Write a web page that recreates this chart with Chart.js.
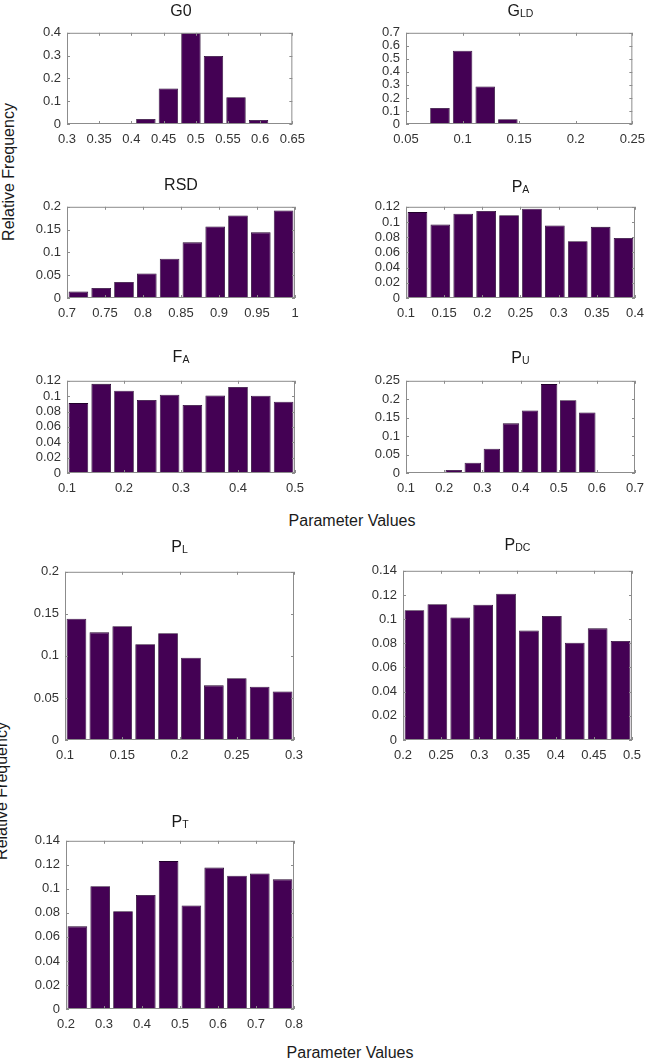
<!DOCTYPE html>
<html>
<head>
<meta charset="utf-8">
<script src="https://cdn.jsdelivr.net/npm/chart.js@4.4.1/dist/chart.umd.min.js"></script>
<style>
  html, body { margin: 0; padding: 0; background: #fff; overflow: hidden; }
  #page { position: relative; width: 649px; height: 1062px; overflow: hidden;
          font-family: "Liberation Sans", Arial, sans-serif; color: #262626; }
  canvas { position: absolute; }
  .title { position: absolute; font-size: 16px; line-height: 18px; white-space: nowrap;
           transform: translateX(-50%); color: #1a1a1a; }
  .title sub { font-size: 10.5px; vertical-align: -1px; }
  .xlabel { position: absolute; font-size: 16px; line-height: 18px; white-space: nowrap;
            transform: translateX(-50%); color: #1a1a1a; }
  .ylabel { position: absolute; font-size: 16px; line-height: 18px; white-space: nowrap;
            transform: translate(-50%, -50%) rotate(-90deg); color: #1a1a1a; }
</style>
</head>
<body>
<div id="page">
  <div class="xlabel" style="left:352px; top:512px;">Parameter Values</div>
  <div class="xlabel" style="left:350px; top:1044px;">Parameter Values</div>
  <div class="ylabel" style="left:9px; top:172px;">Relative Frequency</div>
  <div class="ylabel" style="left:2px; top:791px;">Relative Frequency</div>
</div>
<script>
// ===================================
// Histogramas de parámetros (frecuencia relativa)
// ===================================

// --- G0 ---
const g0Bins   = [0.3175, 0.3525, 0.3875, 0.4225, 0.4575, 0.4925, 0.5275, 0.5625, 0.5975, 0.6325];
const g0Values = [0, 0.001, 0.001, 0.022, 0.156, 0.4, 0.298, 0.117, 0.018, 0.002];
const g0XTicks = [0.3, 0.35, 0.4, 0.45, 0.5, 0.55, 0.6, 0.65];
const g0YTicks = [0, 0.1, 0.2, 0.3, 0.4];

// --- GLD ---
const gldBins   = [0.06, 0.08, 0.10, 0.12, 0.14, 0.16, 0.18, 0.20, 0.22, 0.24];
const gldValues = [0, 0.123, 0.563, 0.288, 0.037, 0.005, 0.001, 0.0005, 0.0005, 0];
const gldXTicks = [0.05, 0.1, 0.15, 0.2, 0.25];
const gldYTicks = [0, 0.1, 0.2, 0.3, 0.4, 0.5, 0.6, 0.7];

// --- RSD ---
const rsdBins   = [0.715, 0.745, 0.775, 0.805, 0.835, 0.865, 0.895, 0.925, 0.955, 0.985];
const rsdValues = [0.014, 0.022, 0.035, 0.054, 0.086, 0.122, 0.157, 0.181, 0.144, 0.192];
const rsdXTicks = [0.7, 0.75, 0.8, 0.85, 0.9, 0.95, 1];
const rsdYTicks = [0, 0.05, 0.1, 0.15, 0.2];

// --- PA ---
const paBins   = [0.115, 0.145, 0.175, 0.205, 0.235, 0.265, 0.295, 0.325, 0.355, 0.385];
const paValues = [0.113, 0.0966, 0.111, 0.1145, 0.109, 0.1175, 0.0953, 0.0748, 0.0936, 0.079];
const paXTicks = [0.1, 0.15, 0.2, 0.25, 0.3, 0.35, 0.4];
const paYTicks = [0, 0.02, 0.04, 0.06, 0.08, 0.1, 0.12];

// --- FA ---
const faBins   = [0.12, 0.16, 0.20, 0.24, 0.28, 0.32, 0.36, 0.40, 0.44, 0.48];
const faValues = [0.091, 0.116, 0.107, 0.095, 0.102, 0.0885, 0.101, 0.112, 0.1007, 0.0927];
const faXTicks = [0.1, 0.2, 0.3, 0.4, 0.5];
const faYTicks = [0, 0.02, 0.04, 0.06, 0.08, 0.1, 0.12];

// --- PU ---
const puBins   = [0.125, 0.175, 0.225, 0.275, 0.325, 0.375, 0.425, 0.475, 0.525, 0.575];
const puValues = [0.001, 0.002, 0.008, 0.028, 0.0656, 0.1346, 0.1696, 0.241, 0.1976, 0.164];
const puXTicks = [0.1, 0.2, 0.3, 0.4, 0.5, 0.6, 0.7];
const puYTicks = [0, 0.05, 0.1, 0.15, 0.2, 0.25];

// --- PL ---
const plBins   = [0.11, 0.13, 0.15, 0.17, 0.19, 0.21, 0.23, 0.25, 0.27, 0.29];
const plValues = [0.1443, 0.128, 0.1354, 0.114, 0.1269, 0.0979, 0.065, 0.0735, 0.0634, 0.0576];
const plXTicks = [0.1, 0.15, 0.2, 0.25, 0.3];
const plYTicks = [0, 0.05, 0.1, 0.15, 0.2];

// --- PDC ---
const pdcBins   = [0.215, 0.245, 0.275, 0.305, 0.335, 0.365, 0.395, 0.425, 0.455, 0.485];
const pdcValues = [0.1073, 0.1124, 0.1014, 0.1119, 0.1211, 0.0905, 0.1027, 0.0805, 0.0924, 0.0819];
const pdcXTicks = [0.2, 0.25, 0.3, 0.35, 0.4, 0.45, 0.5];
const pdcYTicks = [0, 0.02, 0.04, 0.06, 0.08, 0.1, 0.12, 0.14];

// --- PT ---
const ptBins   = [0.23, 0.29, 0.35, 0.41, 0.47, 0.53, 0.59, 0.65, 0.71, 0.77];
const ptValues = [0.0688, 0.1022, 0.0813, 0.0949, 0.1231, 0.0862, 0.1177, 0.1109, 0.1128, 0.1079];
const ptXTicks = [0.2, 0.3, 0.4, 0.5, 0.6, 0.7, 0.8];
const ptYTicks = [0, 0.02, 0.04, 0.06, 0.08, 0.1, 0.12, 0.14];

// Paneles: datos + posición del área del gráfico (left, top, width, height) y del título
const panels = [
    { title: 'G0',             bins: g0Bins,  values: g0Values,  xTicks: g0XTicks,  yTicks: g0YTicks,  area: [67, 29, 228, 95],   titleY: 2 },
    { title: 'G<sub>LD</sub>', bins: gldBins, values: gldValues, xTicks: gldXTicks, yTicks: gldYTicks, area: [406, 29, 229, 95],  titleY: 2 },
    { title: 'RSD',            bins: rsdBins, values: rsdValues, xTicks: rsdXTicks, yTicks: rsdYTicks, area: [67, 203, 228, 95],  titleY: 176 },
    { title: 'P<sub>A</sub>',  bins: paBins,  values: paValues,  xTicks: paXTicks,  yTicks: paYTicks,  area: [406, 203, 229, 95], titleY: 178 },
    { title: 'F<sub>A</sub>',  bins: faBins,  values: faValues,  xTicks: faXTicks,  yTicks: faYTicks,  area: [67, 377, 228, 96],  titleY: 348 },
    { title: 'P<sub>U</sub>',  bins: puBins,  values: puValues,  xTicks: puXTicks,  yTicks: puYTicks,  area: [406, 377, 229, 96], titleY: 349 },
    { title: 'P<sub>L</sub>',  bins: plBins,  values: plValues,  xTicks: plXTicks,  yTicks: plYTicks,  area: [65, 568, 229, 172], titleY: 538 },
    { title: 'P<sub>DC</sub>', bins: pdcBins, values: pdcValues, xTicks: pdcXTicks, yTicks: pdcYTicks, area: [403, 567, 229, 173], titleY: 536 },
    { title: 'P<sub>T</sub>',  bins: ptBins,  values: ptValues,  xTicks: ptXTicks,  yTicks: ptYTicks,  area: [66, 837, 228, 172], titleY: 813 }
];

// Espacio reservado alrededor del área del gráfico
const AXIS_W = 60, AXIS_H = 30, PAD_TOP = 10, PAD_RIGHT = 18;

// Caja estilo MATLAB con marcas hacia dentro
const boxPlugin = {
    id: 'matlabBox',
    afterDatasetsDraw(chart) {
        const { ctx, chartArea: a, scales } = chart;
        const tick = 3;
        ctx.save();
        ctx.strokeStyle = '#8c8c8c';
        ctx.lineWidth = 1;
        ctx.beginPath();
        scales.x.ticks.forEach(t => {
            const px = Math.round(scales.x.getPixelForValue(t.value)) + 0.5;
            ctx.moveTo(px, a.bottom); ctx.lineTo(px, a.bottom - tick);
            ctx.moveTo(px, a.top);    ctx.lineTo(px, a.top + tick);
        });
        scales.y.ticks.forEach(t => {
            const py = Math.round(scales.y.getPixelForValue(t.value)) + 0.5;
            ctx.moveTo(a.left, py);  ctx.lineTo(a.left + tick, py);
            ctx.moveTo(a.right, py); ctx.lineTo(a.right - tick, py);
        });
        ctx.stroke();
        ctx.strokeRect(a.left + 0.5, a.top + 0.5, a.right - a.left - 1, a.bottom - a.top - 1);
        ctx.restore();
    }
};

function drawHistogram(p) {
    const [left, top, w, h] = p.area;
    const page = document.getElementById('page');

    const canvas = document.createElement('canvas');
    canvas.width = w + AXIS_W + PAD_RIGHT;
    canvas.height = h + PAD_TOP + AXIS_H;
    canvas.style.left = (left - AXIS_W) + 'px';
    canvas.style.top = (top - PAD_TOP) + 'px';
    page.appendChild(canvas);

    const title = document.createElement('div');
    title.className = 'title';
    title.innerHTML = p.title;
    title.style.left = (left + w / 2) + 'px';
    title.style.top = p.titleY + 'px';
    page.appendChild(title);

    const tickFont = { family: '"Liberation Sans", Arial, sans-serif', size: 13 };

    new Chart(canvas, {
        type: 'bar',
        data: {
            datasets: [{
                data: p.bins.map((b, i) => ({ x: b, y: p.values[i] })),
                backgroundColor: '#440154',
                borderColor: '#22002c',
                borderWidth: 0.8,
                barPercentage: 0.86,
                categoryPercentage: 1
            }]
        },
        options: {
            responsive: false,
            animation: false,
            devicePixelRatio: 1,
            layout: { padding: { left: 0, top: PAD_TOP, right: PAD_RIGHT, bottom: 0 } },
            plugins: { legend: { display: false }, tooltip: { enabled: false } },
            scales: {
                x: {
                    type: 'linear',
                    offset: false,
                    min: p.xTicks[0],
                    max: p.xTicks[p.xTicks.length - 1],
                    grid: { display: false, drawTicks: false },
                    border: { display: false },
                    ticks: {
                        padding: 8,
                        color: '#333',
                        font: tickFont,
                        maxRotation: 0,
                        autoSkip: false,
                        callback: v => String(v)
                    },
                    afterBuildTicks: s => { s.ticks = p.xTicks.map(v => ({ value: v })); },
                    afterFit: s => { s.height = AXIS_H; }
                },
                y: {
                    min: 0,
                    max: p.yTicks[p.yTicks.length - 1],
                    grid: { display: false, drawTicks: false },
                    border: { display: false },
                    ticks: {
                        padding: 6,
                        color: '#333',
                        font: tickFont,
                        autoSkip: false,
                        callback: v => String(v)
                    },
                    afterBuildTicks: s => { s.ticks = p.yTicks.map(v => ({ value: v })); },
                    afterFit: s => { s.width = AXIS_W; }
                }
            }
        },
        plugins: [boxPlugin]
    });
}

panels.forEach(drawHistogram);
</script>
</body>
</html>
